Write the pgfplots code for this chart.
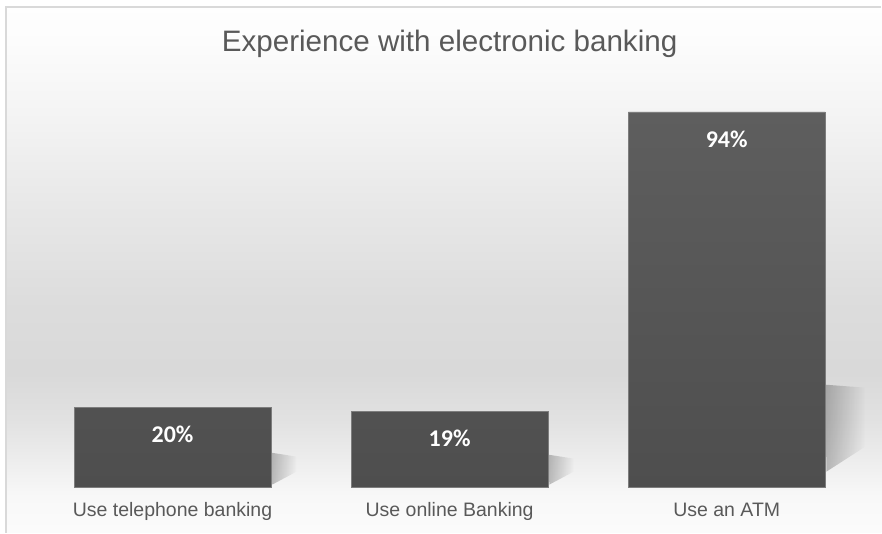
\documentclass[border=0pt]{standalone}
\usepackage{pgfplots}
\pgfplotsset{compat=1.18}
\usepackage{fontspec}
\setmainfont{Liberation Sans}
\newfontfamily\labelfont{Carlito}
\usetikzlibrary{fadings}

\definecolor{titlegray}{RGB}{89,89,89}
\definecolor{bordergray}{RGB}{217,217,217}
\definecolor{barTop}{RGB}{94,94,94}
\definecolor{barBot}{RGB}{78,78,78}
\definecolor{barEdge}{RGB}{125,125,125}

\definecolor{bg533}{gray}{0.985}
\definecolor{bg495}{gray}{0.972}
\definecolor{bg460}{gray}{0.93}
\definecolor{bg420}{gray}{0.885}
\definecolor{bg370}{gray}{0.85}
\definecolor{bg300}{gray}{0.865}
\definecolor{bg200}{gray}{0.91}
\definecolor{bg100}{gray}{0.96}
\definecolor{bg30}{gray}{0.99}
\definecolor{bg0}{gray}{0.995}

\pgfdeclareverticalshading{bgshade}{100bp}{%
 color(0bp)=(bg533); color(25bp)=(bg533); color(28.56bp)=(bg495);
 color(31.85bp)=(bg460); color(35.6bp)=(bg420); color(40.29bp)=(bg370);
 color(46.86bp)=(bg300); color(56.24bp)=(bg200); color(65.62bp)=(bg100);
 color(72.19bp)=(bg30); color(75bp)=(bg0); color(100bp)=(bg0)}

\tikzfading[name=fade right, left color=transparent!0, right color=transparent!100]

\begin{document}
\begin{tikzpicture}[x=1pt,y=1pt]
% background of the whole picture
\fill[white] (0,0) rectangle (882,533);
\shade[shading=bgshade] (6,0) rectangle (882,526);
\draw[bordergray, line width=1.5pt] (6,0) -- (6,526) -- (882,526);

\begin{axis}[
  at={(34pt,45pt)}, anchor=south west,
  scale only axis, width=832pt, height=400pt,
  xmin=-0.5, xmax=2.5, ymin=0, ymax=100,
  axis line style={draw=none},
  clip=false,
  ybar, bar width=197pt,
  xtick=data,
  xticklabels={Use telephone banking, Use online Banking, Use an ATM},
  ytick=\empty,
  major tick length=0pt,
  /pgf/number format/assume math mode=true,
  xticklabel style={anchor=base, yshift=-29pt, text=titlegray,
    font=\fontsize{19.5}{22}\selectfont},
  title={Experience with electronic banking},
  title style={at={(0.5,1)}, anchor=base, yshift=30pt, text=titlegray,
    font=\fontsize{29.6}{33}\selectfont},
  nodes near coords={\pgfmathprintnumber{\pgfplotspointmeta}\%},
  every node near coord/.append style={anchor=center, yshift=-27pt,
    text=white, font=\labelfont\bfseries\fontsize{24}{27}\selectfont},
]
% soft shadows to the right of the bars
\fill[black, opacity=0.25, path fading=fade right]
  (axis cs:0.355,8.75) -- (axis cs:0.448,7.75) -- (axis cs:0.448,4) -- (axis cs:0.36,0.75) -- cycle;
\fill[black, opacity=0.25, path fading=fade right]
  (axis cs:1.355,8.25) -- (axis cs:1.448,7.25) -- (axis cs:1.448,4) -- (axis cs:1.36,0.75) -- cycle;
\fill[black, opacity=0.25, path fading=fade right]
  (axis cs:2.355,25.75) -- (axis cs:2.5,25) -- (axis cs:2.5,10.25) -- (axis cs:2.36,4) -- cycle;

\addplot[draw=barEdge, line width=0.6pt, top color=barTop, bottom color=barBot]
  coordinates {(0,20) (1,19) (2,94)};
\end{axis}
\end{tikzpicture}
\end{document}
